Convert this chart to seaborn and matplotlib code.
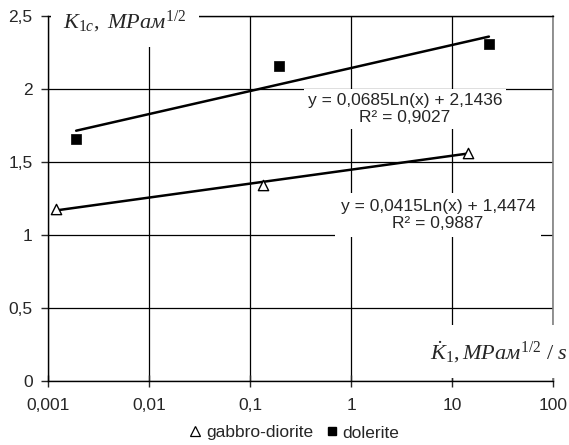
import numpy as np
import matplotlib
matplotlib.use("Agg")
import matplotlib.pyplot as plt
from matplotlib.lines import Line2D
from matplotlib.ticker import NullLocator
import seaborn as sns

# values
rocks = ["gabbro-diorite", "dolerite"]
gabbro_rate = [0.0012, 0.135, 14.4]
gabbro_k1c = [1.18, 1.34, 1.56]
dolerite_rate = [0.0019, 0.194, 23.2]
dolerite_k1c = [1.66, 2.16, 2.31]

# log trendlines y = a*Ln(x) + b, as printed on the chart
trend_a = [0.0415, 0.0685]
trend_b = [1.4474, 2.1436]
trend_r2 = [0.9887, 0.9027]

x_ticks = [0.001, 0.01, 0.1, 1, 10, 100]
y_ticks = [0, 0.5, 1, 1.5, 2, 2.5]


def comma(v):
    return f"{v:g}".replace(".", ",")


sns.set_style("white")
plt.rcParams["font.family"] = ["Liberation Sans", "DejaVu Sans"]
plt.rcParams["mathtext.fontset"] = "custom"
plt.rcParams["mathtext.rm"] = "Liberation Serif"
plt.rcParams["mathtext.it"] = "Liberation Serif:italic"
plt.rcParams["mathtext.bf"] = "Liberation Serif:bold"

fig = plt.figure(figsize=(5.69, 4.45), dpi=100)
ax = fig.add_axes([48 / 569, 1 - 381 / 445, 505 / 569, 365 / 445])
ax.set_xscale("log")

# points
sns.scatterplot(x=gabbro_rate, y=gabbro_k1c, marker="^", s=55, color="white",
                edgecolor="black", linewidth=1, ax=ax, zorder=6)
sns.scatterplot(x=dolerite_rate, y=dolerite_k1c, marker="s", s=45, color="black",
                edgecolor="black", linewidth=0.5, ax=ax, zorder=6)

# trendlines between the smallest and largest rate of each rock
for xs, a, b in [(gabbro_rate, trend_a[0], trend_b[0]),
                 (dolerite_rate, trend_a[1], trend_b[1])]:
    tx = np.array([min(xs), max(xs)])
    ty = a * np.log(tx) + b
    sns.lineplot(x=tx, y=ty, color="black", lw=1.8, estimator=None, ax=ax, zorder=5)

ax.set_xlim(x_ticks[0], x_ticks[-1])
ax.set_ylim(y_ticks[0], y_ticks[-1])
ax.set_xticks(x_ticks)
ax.set_xticklabels([comma(v) for v in x_ticks])
ax.set_yticks(y_ticks)
ax.set_yticklabels([comma(v) for v in y_ticks])
ax.xaxis.set_minor_locator(NullLocator())
ax.grid(True, which="major", color="black", lw=0.9)
ax.set_axisbelow(True)

for side in ["left", "bottom", "top"]:
    ax.spines[side].set_color("black")
    ax.spines[side].set_linewidth(1)
ax.spines["right"].set_color("#808080")
ax.spines["right"].set_linewidth(1.2)
ax.spines["left"].set_zorder(4)
ax.spines["bottom"].set_zorder(4)

ax.tick_params(axis="y", direction="out", length=5, width=1, pad=6,
               labelsize=12.5, left=True)
ax.tick_params(axis="x", direction="inout", length=8, width=1, pad=8,
               labelsize=12.5, bottom=True)

# equations of the trendlines
ax.text(0.707, 0.745,
        f"y = {comma(trend_a[1])}Ln(x) + {comma(trend_b[1])}\nR² = {comma(trend_r2[1])}",
        transform=ax.transAxes, ha="center", va="center", multialignment="center",
        fontsize=12.5, zorder=3,
        bbox=dict(facecolor="white", edgecolor="none", pad=3))
ax.text(0.772, 0.455,
        f"y = {comma(trend_a[0])}Ln(x) + {comma(trend_b[0])}\nR² = {comma(trend_r2[0])}",
        transform=ax.transAxes, ha="center", va="center", multialignment="center",
        fontsize=12.5, zorder=3,
        bbox=dict(facecolor="white", edgecolor="none", pad=4))

# axis titles inside the plot
ax.text(0.03, 0.985, r"$K_{1c},\ MPaм^{1/2}$", transform=ax.transAxes,
        ha="left", va="center", fontsize=16, zorder=3,
        bbox=dict(facecolor="white", edgecolor="none", pad=9))
ax.text(1.03, 0.06, r"$\dot{K}_1,MPaм^{1/2}\ /\ s$", transform=ax.transAxes,
        ha="right", va="baseline", fontsize=16, zorder=3,
        bbox=dict(facecolor="white", edgecolor="none", pad=10))

handles = [
    Line2D([], [], marker="^", ls="", mfc="white", mec="black", ms=7, mew=0.9),
    Line2D([], [], marker="s", ls="", mfc="black", mec="black", ms=6),
]
fig.legend(handles, rocks, loc="lower center", bbox_to_anchor=(0.515, -0.025),
           ncol=2, frameon=False, handletextpad=0.1, columnspacing=0.6,
           handlelength=1.0, fontsize=12.5)

fig.savefig("out.png", dpi=100)
